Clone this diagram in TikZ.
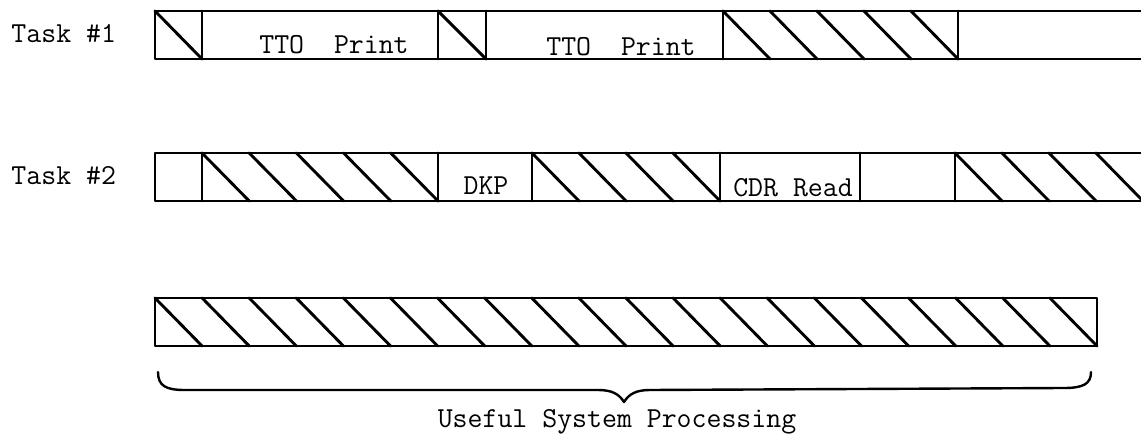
\documentclass[tikz,border=0pt]{standalone}
\begin{document}
\begin{tikzpicture}[x=1pt,y=-1pt,line width=2.9pt,line cap=round,line join=round,
  lbl/.style={font=\fontsize{29}{30}\selectfont\ttfamily,inner sep=0pt,anchor=base}]
\useasboundingbox (0,0) rectangle (1141,438);
\newcommand{\hatchband}[5]{%
  \pgfmathsetmacro{\hw}{(#2-#1)/#3}%
  \foreach \i in {1,...,#3}{%
    \draw ({#1+(\i-1)*\hw},#4) -- ({#1+\i*\hw},#5);}}
% Row 1
\draw (1141,11) -- (155,11) -- (155,59) -- (1141,59);
\foreach \x in {202,438,486,723,958} \draw (\x,11) -- (\x,59);
\hatchband{155}{202}{1}{11}{59}
\hatchband{438}{486}{1}{11}{59}
\hatchband{723}{958}{5}{11}{59}
% Row 2
\draw (1141,153) -- (155,153) -- (155,201) -- (1141,201);
\foreach \x in {202,438,532,720,860,955} \draw (\x,153) -- (\x,201);
\hatchband{202}{438}{5}{153}{201}
\hatchband{532}{720}{4}{153}{201}
\hatchband{955}{1143}{4}{153}{201}
% Row 3
\draw (155,298) rectangle (1097,346);
\hatchband{155}{1097}{20}{298}{346}
% Brace
\draw[line width=2.4pt] (158,372) .. controls (158,386) and (166,390) .. (185,390)
  -- (598,390) .. controls (612,390) and (619,394) .. (624,402)
  .. controls (629,394) and (636,390) .. (650,390)
  -- (1064,388) .. controls (1083,388) and (1091,384) .. (1091,372);
% Labels
\node[lbl,anchor=base west] (t1) at (10,43) {Task \#1};
\node[lbl,anchor=base west] (t2) at (10,185) {Task \#2};
\node[lbl] (p1) at (334,54) {TTO\ \ Print};
\node[lbl] (p2) at (621,56) {TTO\ \ Print};
\node[lbl] (dkp) at (486,195) {DKP};
\node[lbl] (cdr) at (793,197) {CDR Read};
\node[lbl] (usp) at (617,427) {Useful System Processing};
\end{tikzpicture}
\end{document}
